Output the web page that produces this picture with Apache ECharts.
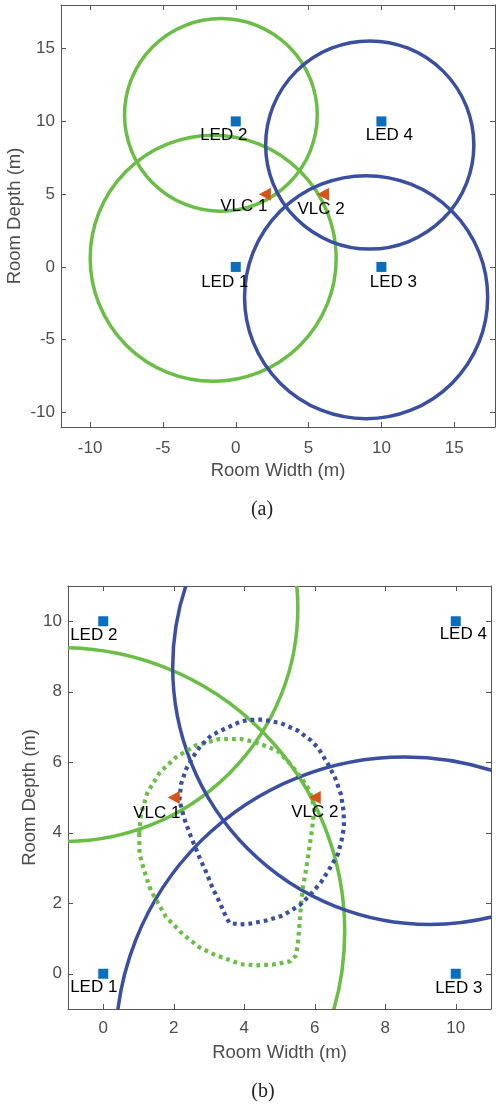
<!DOCTYPE html>
<html><head><meta charset="utf-8">
<script src="https://cdn.jsdelivr.net/npm/echarts@6/dist/echarts.min.js"></script>
<style>html,body{margin:0;padding:0;background:#fff}#c{width:496px;height:1104px}</style>
</head><body><div id="c"></div>
<script>
// ---- data ----
const ledNames = ['LED 1', 'LED 2', 'LED 3', 'LED 4'];
const ledX = [0, 0, 10, 10];
const ledY = [0, 10, 0, 10];
const vlcNames = ['VLC 1', 'VLC 2'];
const vlcX = [2, 6];
const vlcY = [5, 5];
// circles: [centerX, centerY, radius]
const circlesAGreen = [[-1.55, 0.6, 8.45], [-1.02, 10.45, 6.62]];
const circlesABlue = [[9.2, 8.38, 7.15], [8.95, -2.08, 8.35]];
const circlesBGreen = [[-1.2, 1.2, 8.05], [-1.1, 10.37, 6.62]];
const circlesBBlue = [[9.27, 8.7, 7.3], [8.55, -2.05, 8.2]];
const dottedGreenB = [[1.02,3.97],[1.07,4.54],[1.26,5.15],[1.61,5.72],[2.06,6.14],[2.63,6.48],[3.30,6.66],[3.90,6.66],[4.20,6.60],[4.50,6.50],[4.94,6.33],[5.28,5.98],[5.60,5.58],[5.85,5.21],[5.99,4.70],[5.92,4.07],[5.82,3.40],[5.74,2.88],[5.66,2.41],[5.61,1.95],[5.56,1.30],[5.52,0.85],[5.47,0.52],[5.30,0.35],[4.81,0.26],[4.34,0.24],[3.90,0.27],[3.67,0.36],[3.20,0.52],[2.73,0.75],[2.25,1.13],[1.78,1.61],[1.35,2.36],[1.16,2.93],[1.03,3.40],[1.02,3.97]];
const dottedBlueB = [[2.16,4.92],[2.21,5.39],[2.35,5.80],[2.54,6.14],[2.75,6.45],[3.06,6.76],[3.30,6.88],[3.86,7.14],[4.10,7.20],[4.52,7.21],[5.04,7.11],[5.51,6.90],[5.89,6.62],[6.10,6.40],[6.37,5.96],[6.58,5.55],[6.74,5.10],[6.82,4.60],[6.83,4.16],[6.76,3.78],[6.66,3.40],[6.42,2.98],[6.18,2.60],[5.90,2.27],[5.57,1.94],[5.09,1.65],[4.62,1.51],[4.15,1.42],[3.86,1.40],[3.58,1.44],[3.48,1.62],[3.30,2.03],[3.11,2.41],[2.92,2.88],[2.73,3.30],[2.49,3.88],[2.30,4.40],[2.16,4.92]];
const ticksAX = [-10, -5, 0, 5, 10, 15];
const ticksAY = [-10, -5, 0, 5, 10, 15];
const ticksBX = [0, 2, 4, 6, 8, 10];
const ticksBY = [0, 2, 4, 6, 8, 10];

// ---- styling ----
const F = '"Liberation Sans", Arial, sans-serif';
const GREEN = '#6ABE46';
const BLUE = '#3A4FA0';
const AX = '#555555';
const TXT = '#4d4d4d';

function circleRender(color, width) {
  return function (params, api) {
    const c = api.coord([api.value(0), api.value(1)]);
    const s = api.size([api.value(2), api.value(2)]);
    return { type: 'circle', shape: { cx: c[0], cy: c[1], r: (s[0] + s[1]) / 2 },
      style: { fill: 'none', stroke: color, lineWidth: width } };
  };
}

function xMain(g, min, max, ticks, margin) {
  return { type: 'value', gridIndex: g, min, max, position: 'bottom',
    name: 'Room Width (m)', nameLocation: 'middle', nameGap: 34, nameMoveOverlap: false,
    nameTextStyle: { fontSize: 18.5, color: TXT, fontFamily: F },
    axisLine: { show: true, onZero: false, lineStyle: { color: AX, width: 1 } },
    axisTick: { show: true, inside: true, length: 5, customValues: ticks, lineStyle: { color: AX } },
    axisLabel: { customValues: ticks, fontSize: 17, color: TXT, margin: margin, fontFamily: F },
    splitLine: { show: false } };
}
function xTop(g, min, max, ticks) {
  return { type: 'value', gridIndex: g, min, max, position: 'top',
    axisLine: { show: true, onZero: false, lineStyle: { color: AX, width: 1 } },
    axisTick: { show: true, inside: true, length: 5, customValues: ticks, lineStyle: { color: AX } },
    axisLabel: { show: false }, splitLine: { show: false } };
}
function yMain(g, min, max, ticks, gap) {
  return { type: 'value', gridIndex: g, min, max, position: 'left',
    name: 'Room Depth (m)', nameLocation: 'middle', nameGap: gap, nameMoveOverlap: false,
    nameTextStyle: { fontSize: 18.5, color: TXT, fontFamily: F },
    axisLine: { show: true, onZero: false, lineStyle: { color: AX, width: 1 } },
    axisTick: { show: true, inside: true, length: 5, customValues: ticks, lineStyle: { color: AX } },
    axisLabel: { customValues: ticks, fontSize: 17, color: TXT, margin: 6, fontFamily: F },
    splitLine: { show: false } };
}
function yRight(g, min, max, ticks) {
  return { type: 'value', gridIndex: g, min, max, position: 'right',
    axisLine: { show: true, onZero: false, lineStyle: { color: AX, width: 1 } },
    axisTick: { show: true, inside: true, length: 5, customValues: ticks, lineStyle: { color: AX } },
    axisLabel: { show: false }, splitLine: { show: false } };
}

const labelBase = { show: true, position: 'inside', formatter: '{b}', color: '#000', fontSize: 17, fontFamily: F };
function ledSeries(xi, yi, offsets) {
  return { type: 'scatter', xAxisIndex: xi, yAxisIndex: yi, symbol: 'rect', symbolSize: 10,
    itemStyle: { color: '#0A6EBD', opacity: 1 }, z: 5,
    data: ledX.map((x, i) => ({ value: [x, ledY[i]], name: ledNames[i], label: Object.assign({}, labelBase, { offset: offsets[i] }) })) };
}
function vlcSeries(xi, yi, offsets) {
  return { type: 'scatter', xAxisIndex: xi, yAxisIndex: yi, symbol: 'triangle', symbolRotate: 90, symbolSize: [13, 12],
    itemStyle: { color: '#D95319', opacity: 1 }, z: 5,
    data: vlcX.map((x, i) => ({ value: [x, vlcY[i]], name: vlcNames[i], label: Object.assign({}, labelBase, { offset: offsets[i] }) })) };
}
function circleSeries(xi, yi, data, color, w) {
  return { type: 'custom', xAxisIndex: xi, yAxisIndex: yi, clip: true, renderItem: circleRender(color, w),
    encode: { x: 0, y: 1 }, data: data, z: 2, silent: true };
}
function dottedSeries(xi, yi, data, color) {
  return { type: 'line', xAxisIndex: xi, yAxisIndex: yi, data: data, showSymbol: false, symbol: 'none',
    lineStyle: { color: color, width: 4.2, type: [3.8, 4], cap: 'butt' }, z: 3, silent: true, animation: false };
}

const chart = echarts.init(document.getElementById('c'), null, { renderer: 'canvas' });
chart.setOption({
  animation: false,
  backgroundColor: '#fff',
  grid: [
    { left: 61, top: 5, width: 434, height: 422, show: false, outerBoundsMode: 'none', containLabel: false },
    { left: 68, top: 586, width: 423, height: 423, show: false, outerBoundsMode: 'none', containLabel: false }
  ],
  xAxis: [xMain(0, -12, 17.8, ticksAX, 13), xTop(0, -12, 17.8, ticksAX), xMain(1, -1, 11, ticksBX, 11), xTop(1, -1, 11, ticksBX)],
  yAxis: [yMain(0, -11, 18, ticksAY, 37), yRight(0, -11, 18, ticksAY), yMain(1, -1, 11, ticksBY, 29), yRight(1, -1, 11, ticksBY)],
  graphic: [
    { type: 'text', x: 262, y: 510, style: { text: '(a)', align: 'center', verticalAlign: 'middle', font: '20px "Liberation Serif", serif', fill: '#222' } },
    { type: 'text', x: 263, y: 1092, style: { text: '(b)', align: 'center', verticalAlign: 'middle', font: '20px "Liberation Serif", serif', fill: '#222' } }
  ],
  series: [
    circleSeries(0, 0, circlesAGreen, GREEN, 3.5),
    circleSeries(0, 0, circlesABlue, BLUE, 3.5),
    ledSeries(0, 0, [[-11, 15], [-12, 14], [12, 15], [8, 14]]),
    vlcSeries(0, 0, [[-21, 12], [-2, 15.5]]),
    circleSeries(2, 2, circlesBGreen, GREEN, 3.5),
    circleSeries(2, 2, circlesBBlue, BLUE, 3.5),
    dottedSeries(2, 2, dottedGreenB, GREEN),
    dottedSeries(2, 2, dottedBlueB, BLUE),
    ledSeries(2, 2, [[-9.5, 13.5], [-9.5, 14.5], [3, 15], [7.5, 13.5]]),
    vlcSeries(2, 2, [[-17, 16], [0, 15]])
  ]
});
</script></body></html>
